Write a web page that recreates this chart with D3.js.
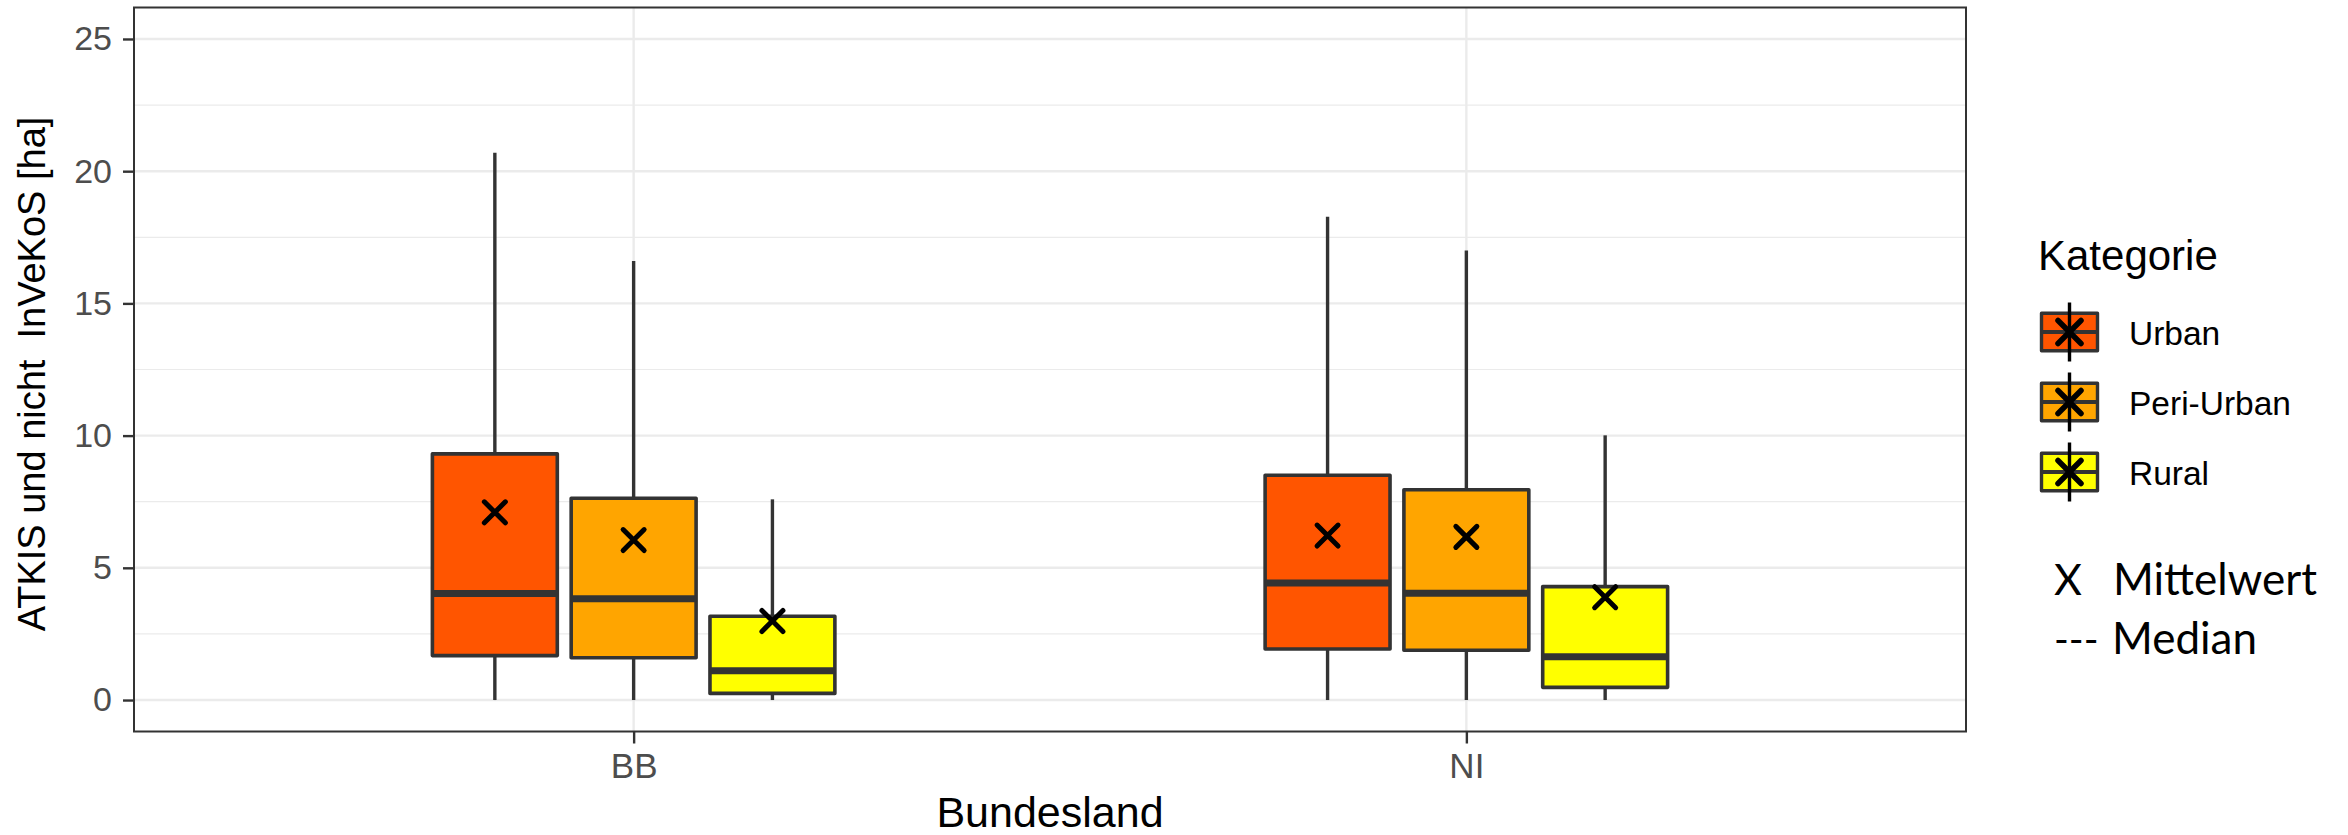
<!DOCTYPE html>
<html>
<head>
<meta charset="utf-8">
<script src="https://cdn.jsdelivr.net/npm/d3@7"></script>
<style>
  body { margin: 0; background: #fff; }
  svg { display: block; }
</style>
</head>
<body>
<script>
// values, [region][category]
const regions = ["BB", "NI"];
const categories = ["Urban", "Peri-Urban", "Rural"];
const whiskerLow = [[0, 0, 0], [0, 0, 0]];
const q1 = [[1.68, 1.60, 0.25], [1.93, 1.88, 0.48]];
const median = [[4.03, 3.83, 1.11], [4.43, 4.04, 1.64]];
const q3 = [[9.31, 7.63, 3.17], [8.50, 7.95, 4.29]];
const whiskerHigh = [[20.7, 16.6, 7.59], [18.28, 17.0, 10.01]];
const mean = [[7.10, 6.05, 2.99], [6.22, 6.17, 3.89]];
const yTicks = [0, 5, 10, 15, 20, 25];
const yMinor = [2.5, 7.5, 12.5, 17.5, 22.5];

function createChart() {
    const svgWidth = 2348, svgHeight = 835;
    const panel = { left: 134, right: 1966, top: 7.5, bottom: 731.5 };
    const font = "'Liberation Sans', Arial, Helvetica, sans-serif";

    const x = d3.scalePoint()
        .domain(regions)
        .range([panel.left, panel.right])
        .padding(0.6);
    const step = x.step();

    // dodge inside each region
    const dodge = d3.scaleBand()
        .domain(categories)
        .range([-0.25 * step, 0.25 * step])
        .paddingInner(0.1)
        .paddingOuter(0.05);

    const y = d3.scaleLinear()
        .domain([-1.19, 26.19])
        .range([panel.bottom, panel.top]);

    const color = d3.scaleOrdinal()
        .domain(categories)
        .range(["#FF5500", "#FFA500", "#FFFF00"]);

    const svg = d3.create("svg")
        .attr("width", svgWidth)
        .attr("height", svgHeight)
        .attr("viewBox", `0 0 ${svgWidth} ${svgHeight}`);

    // grid
    const grid = svg.append("g");
    grid.selectAll(".minor")
        .data(yMinor)
        .join("line")
        .attr("x1", panel.left).attr("x2", panel.right)
        .attr("y1", d => y(d)).attr("y2", d => y(d))
        .attr("stroke", "#EBEBEB").attr("stroke-width", 1.2);
    grid.selectAll(".major")
        .data(yTicks)
        .join("line")
        .attr("x1", panel.left).attr("x2", panel.right)
        .attr("y1", d => y(d)).attr("y2", d => y(d))
        .attr("stroke", "#EBEBEB").attr("stroke-width", 2.4);
    grid.selectAll(".vmajor")
        .data(regions)
        .join("line")
        .attr("x1", d => x(d)).attr("x2", d => x(d))
        .attr("y1", panel.top).attr("y2", panel.bottom)
        .attr("stroke", "#EBEBEB").attr("stroke-width", 2.4);

    // flatten boxes
    const boxes = [];
    regions.forEach((r, i) => {
        categories.forEach((c, j) => {
            boxes.push({
                region: r, cat: c,
                lo: whiskerLow[i][j], q1: q1[i][j], med: median[i][j],
                q3: q3[i][j], hi: whiskerHigh[i][j], mean: mean[i][j]
            });
        });
    });
    const cx = d => x(d.region) + dodge(d.cat) + dodge.bandwidth() / 2;

    const g = svg.append("g");
    const box = g.selectAll("g.box")
        .data(boxes)
        .join("g")
        .attr("class", "box");

    box.append("line")
        .attr("x1", cx).attr("x2", cx)
        .attr("y1", d => y(d.hi)).attr("y2", d => y(d.q3))
        .attr("stroke", "#333333").attr("stroke-width", 3.4);
    box.append("line")
        .attr("x1", cx).attr("x2", cx)
        .attr("y1", d => y(d.q1)).attr("y2", d => y(d.lo))
        .attr("stroke", "#333333").attr("stroke-width", 3.4);
    box.append("rect")
        .attr("x", d => x(d.region) + dodge(d.cat))
        .attr("width", dodge.bandwidth())
        .attr("y", d => y(d.q3))
        .attr("height", d => y(d.q1) - y(d.q3))
        .attr("fill", d => color(d.cat))
        .attr("stroke", "#333333").attr("stroke-width", 3.6)
        .attr("stroke-linejoin", "round");
    box.append("line")
        .attr("x1", d => x(d.region) + dodge(d.cat))
        .attr("x2", d => x(d.region) + dodge(d.cat) + dodge.bandwidth())
        .attr("y1", d => y(d.med)).attr("y2", d => y(d.med))
        .attr("stroke", "#333333").attr("stroke-width", 7);

    const cross = d3.symbol().type(d3.symbolX).size(290);
    box.append("path")
        .attr("transform", d => `translate(${cx(d)},${y(d.mean)})`)
        .attr("d", cross())
        .attr("fill", "none")
        .attr("stroke", "#000").attr("stroke-width", 5)
        .attr("stroke-linecap", "round");

    // panel border
    svg.append("rect")
        .attr("x", panel.left).attr("y", panel.top)
        .attr("width", panel.right - panel.left)
        .attr("height", panel.bottom - panel.top)
        .attr("fill", "none")
        .attr("stroke", "#333333").attr("stroke-width", 2);

    // y axis
    const gy = svg.append("g")
        .attr("transform", `translate(${panel.left},0)`)
        .call(d3.axisLeft(y).tickValues(yTicks).tickSize(11).tickPadding(11));
    gy.select(".domain").remove();
    gy.selectAll(".tick line").attr("stroke", "#333333").attr("stroke-width", 2.4);
    gy.selectAll(".tick text")
        .attr("fill", "#4D4D4D")
        .style("font", `34px ${font}`);

    // x axis
    const gx = svg.append("g")
        .attr("transform", `translate(0,${panel.bottom})`)
        .call(d3.axisBottom(x).tickSize(12).tickPadding(10));
    gx.select(".domain").remove();
    gx.selectAll(".tick line").attr("stroke", "#333333").attr("stroke-width", 2.4);
    gx.selectAll(".tick text")
        .attr("fill", "#4D4D4D")
        .style("font", `35px ${font}`);

    // axis titles
    svg.append("text")
        .attr("x", (panel.left + panel.right) / 2)
        .attr("y", 827)
        .attr("text-anchor", "middle")
        .style("font", `43px ${font}`)
        .text("Bundesland");

    svg.append("text")
        .attr("transform", `translate(45,374) rotate(-90)`)
        .attr("text-anchor", "middle")
        .style("font", `38px ${font}`)
        .style("white-space", "pre")
        .text("ATKIS und nicht  InVeKoS [ha]");

    // legend
    const legend = svg.append("g");
    legend.append("text")
        .attr("x", 2038).attr("y", 270)
        .style("font", `42px ${font}`)
        .text("Kategorie");

    const keyX = 2069.5, keyY0 = 332, keyStep = 70;
    const keyCross = d3.symbol().type(d3.symbolX).size(347);
    const key = legend.selectAll("g.key")
        .data(categories)
        .join("g")
        .attr("class", "key")
        .attr("transform", (d, i) => `translate(${keyX},${keyY0 + i * keyStep})`);
    key.append("rect")
        .attr("x", -28).attr("y", -18.8)
        .attr("width", 56).attr("height", 37.6)
        .attr("fill", d => color(d))
        .attr("stroke", "#333333").attr("stroke-width", 3.4)
        .attr("stroke-linejoin", "round");
    key.append("line")
        .attr("x1", -28).attr("x2", 28)
        .attr("stroke", "#333333").attr("stroke-width", 4);
    key.append("line")
        .attr("y1", -29.5).attr("y2", 29.5)
        .attr("stroke", "#000").attr("stroke-width", 3.4);
    key.append("path")
        .attr("d", keyCross())
        .attr("fill", "none")
        .attr("stroke", "#000").attr("stroke-width", 5.5)
        .attr("stroke-linecap", "round");
    key.append("text")
        .attr("x", 2129 - keyX)
        .attr("y", 13)
        .style("font", `33.5px ${font}`)
        .text(d => d);

    // note on the markers
    const noteFont = "Lato, 'Open Sans', sans-serif";
    legend.append("text")
        .attr("x", 2054).attr("y", 595)
        .style("font", `43px ${noteFont}`)
        .text("X");
    legend.append("text")
        .attr("x", 2113).attr("y", 595)
        .style("font", `44px ${noteFont}`)
        .text("Mittelwert");
    legend.append("text")
        .attr("x", 2054).attr("y", 654)
        .style("font", `40px ${noteFont}`)
        .text("---");
    legend.append("text")
        .attr("x", 2112).attr("y", 654)
        .style("font", `44px ${noteFont}`)
        .text("Median");

    document.body.append(svg.node());
}

createChart();
</script>
</body>
</html>
